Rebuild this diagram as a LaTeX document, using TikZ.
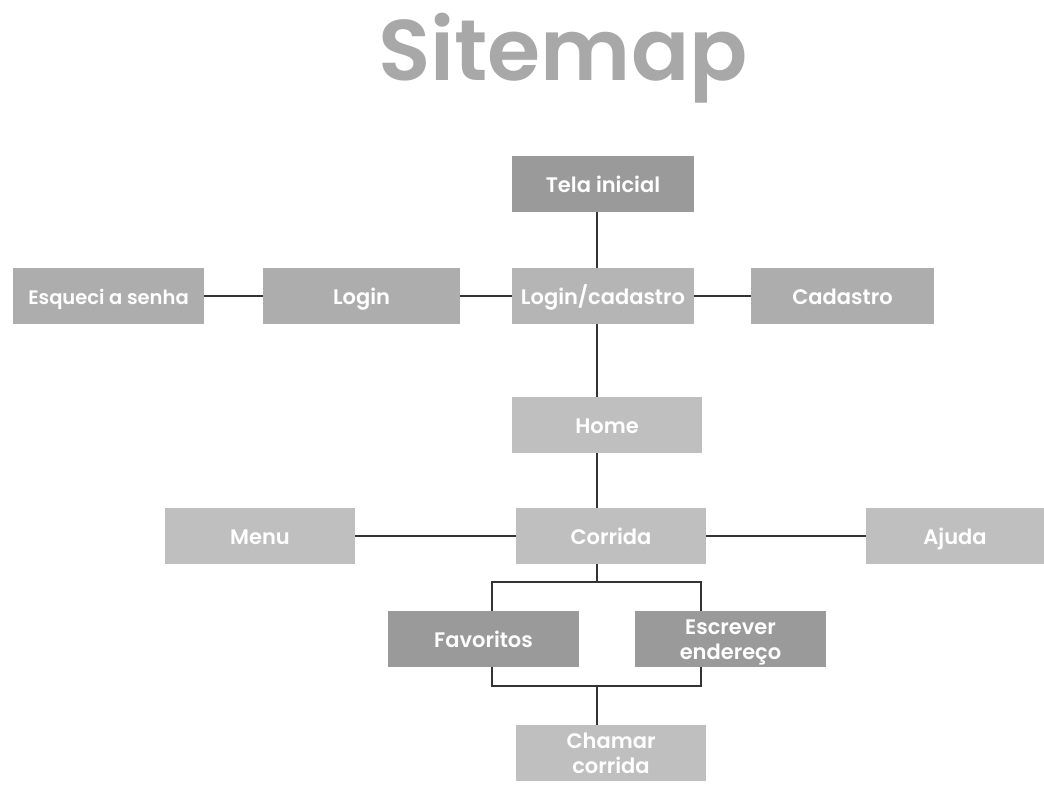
\documentclass[tikz,border=0pt]{standalone}
\usepackage{fontspec}
\setmainfont{Poppins}[BoldFont={Poppins SemiBold}]
\definecolor{boxdark}{HTML}{9A9A9A}
\definecolor{boxmid}{HTML}{ADADAD}
\definecolor{boxpale}{HTML}{B5B5B5}
\definecolor{boxlight}{HTML}{BFBFBF}
\definecolor{titlegray}{HTML}{A8A8A8}
\definecolor{linegray}{HTML}{333333}

\begin{document}
\begin{tikzpicture}[x=1pt,y=-1pt,
        box/.style={fill=#1, text=white, minimum height=56pt, inner sep=0pt, align=center,
            text height=16pt, text depth=0pt, font=\bfseries\fontsize{21}{25}\selectfont},
        twoline/.style={text height=41pt, text depth=0pt},
        link/.style={draw=linegray, line width=1.2pt}]
                \useasboundingbox (0,0) rectangle (1044,785);

                \node[anchor=base, text=titlegray, font=\bfseries\fontsize{86}{90}\selectfont] at (563,80) (title) {Sitemap};

                \node[box=boxdark, minimum width=182pt] at (603,184) (tela) {Tela inicial};
                \node[box=boxmid, minimum width=191pt, font=\bfseries\fontsize{19.5}{24}\selectfont] at (108.5,296) (esqueci) {Esqueci a senha};
                \node[box=boxmid, minimum width=197pt] at (361.5,296) (login) {Login};
                \node[box=boxpale, minimum width=182pt] at (603,296) (logcad) {Login/cadastro};
                \node[box=boxmid, minimum width=183pt] at (842.5,296) (cadastro) {Cadastro};
                \node[box=boxlight, minimum width=190pt] at (607,425) (home) {Home};
                \node[box=boxlight, minimum width=190pt] at (260,536) (menu) {Menu};
                \node[box=boxlight, minimum width=190pt] at (611,536) (corrida) {Corrida};
                \node[box=boxlight, minimum width=178pt] at (955,536) (ajuda) {Ajuda};
                \node[box=boxdark, minimum width=191pt] at (483.5,639) (favoritos) {Favoritos};
                \node[box=boxdark, twoline, minimum width=191pt] at (730.5,639) (escrever) {Escrever\\endereço};
                \node[box=boxlight, twoline, minimum width=190pt] at (611,753) (chamar) {Chamar\\corrida};

                \coordinate (spine) at (597,0);
                \coordinate (forkL) at (492,582);
                \coordinate (forkR) at (701,582);
                \coordinate (joinL) at (492,686);
                \coordinate (joinR) at (701,686);

                \draw[link] (tela.south -| spine) -- (logcad.north -| spine);
                \draw[link] (logcad.south -| spine) -- (home.north -| spine);
                \draw[link] (home.south -| spine) -- (corrida.north -| spine);
                \draw[link] (esqueci.east) -- (login.west);
                \draw[link] (login.east) -- (logcad.west);
                \draw[link] (logcad.east) -- (cadastro.west);
                \draw[link] (menu.east) -- (corrida.west);
                \draw[link] (corrida.east) -- (ajuda.west);
                \draw[link] (corrida.south -| spine) -- (spine |- forkL);
                \draw[link] (favoritos.north -| forkL) -- (forkL) -- (forkR) -- (escrever.north -| forkR);
                \draw[link] (favoritos.south -| joinL) -- (joinL) -- (joinR) -- (escrever.south -| joinR);
                \draw[link] (spine |- joinL) -- (chamar.north -| spine);
            \end{tikzpicture}
\end{document}
